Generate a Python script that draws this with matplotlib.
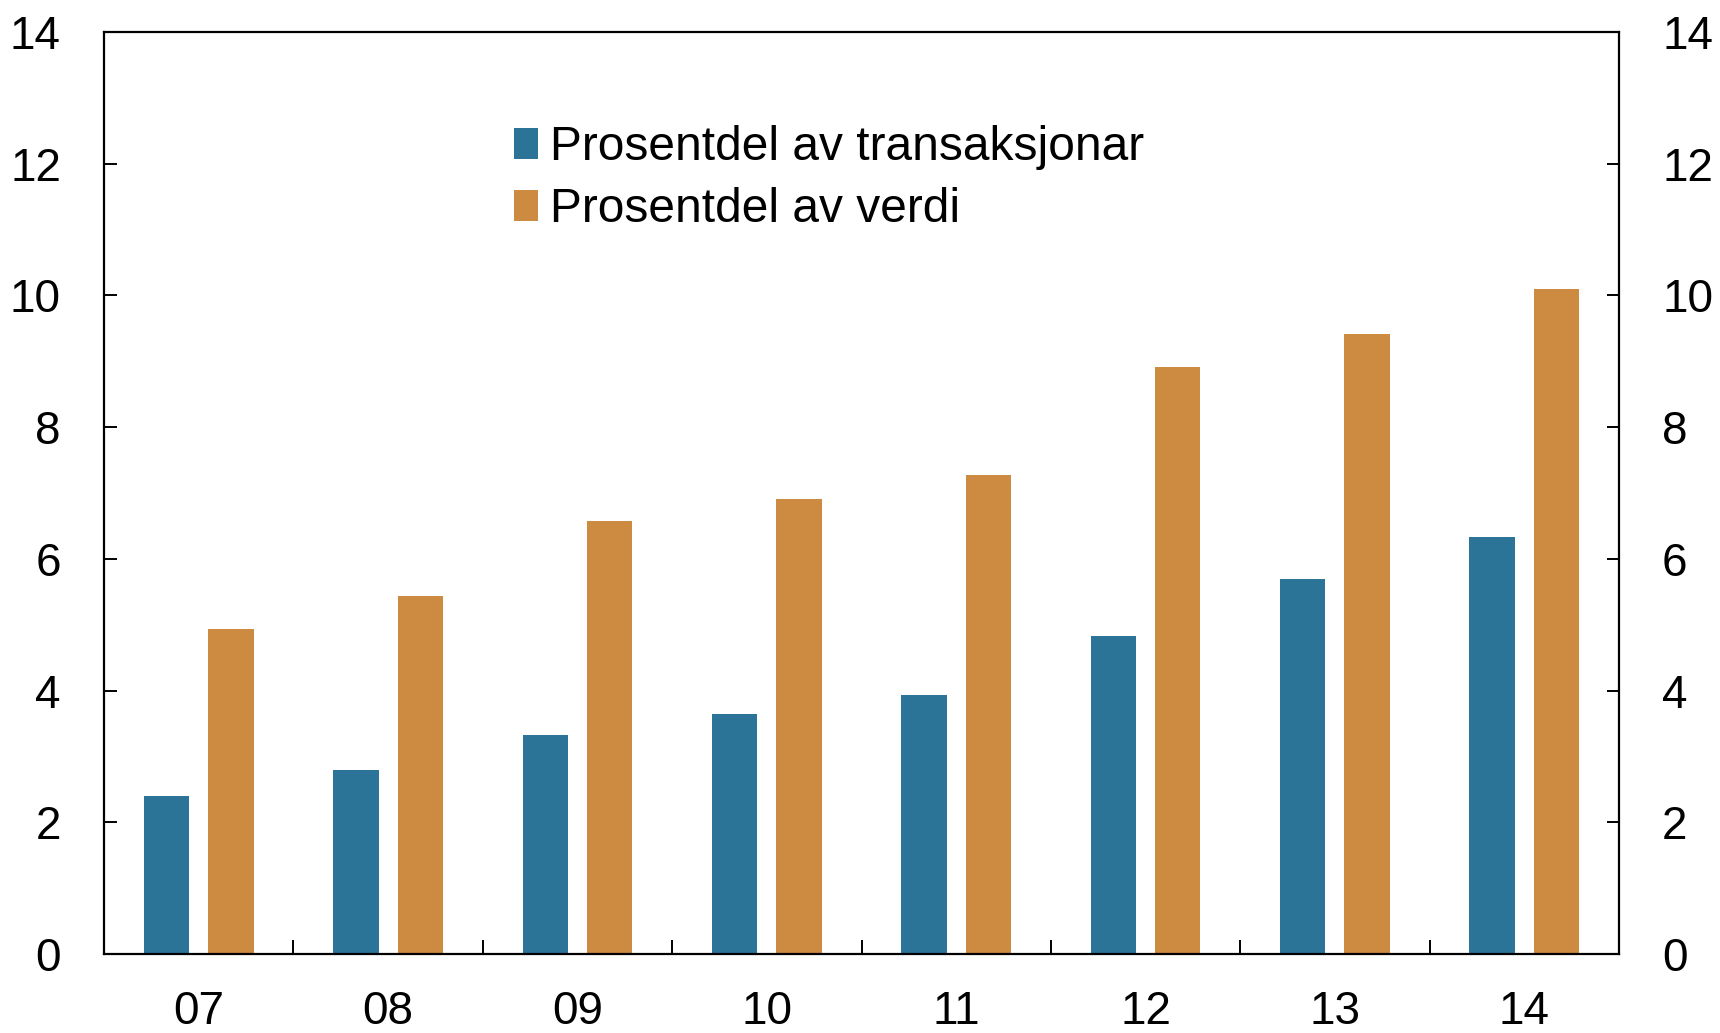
import numpy as np
import matplotlib
matplotlib.use('Agg')
import matplotlib.pyplot as plt
from matplotlib.ticker import MultipleLocator, FixedLocator

years = ['07', '08', '09', '10', '11', '12', '13', '14']
transaksjonar = [2.40, 2.79, 3.33, 3.64, 3.94, 4.83, 5.70, 6.33]
verdi = [4.93, 5.44, 6.58, 6.91, 7.27, 8.92, 9.41, 10.10]
labels = ['Prosentdel av transaksjonar', 'Prosentdel av verdi']

blue = '#2C7398'
orange = '#CD8B42'

plt.rcParams['font.family'] = ['Liberation Sans', 'DejaVu Sans']

fig = plt.figure(figsize=(17.2, 10.33), dpi=100)
ax = fig.add_axes([104 / 1720, 79 / 1033, 1515 / 1720, 922 / 1033])

x = np.arange(len(years))
w = 0.24
ax.bar(x - 0.17, transaksjonar, w, color=blue, label=labels[0])
ax.bar(x + 0.17, verdi, w, color=orange, label=labels[1])

ax.set_xlim(-0.5, len(years) - 0.5)
ax.set_ylim(0, 14)
ax.yaxis.set_major_locator(MultipleLocator(2))
ax.set_xticks(x)
ax.set_xticklabels(years)
ax.xaxis.set_minor_locator(FixedLocator(x[:-1] + 0.5))

for s in ax.spines.values():
    s.set_linewidth(1.6)

ax.tick_params(axis='x', which='major', length=0, pad=26, labelsize=33)
ax.tick_params(axis='x', which='minor', direction='in', length=10, width=1.4)
ax.tick_params(axis='y', which='major', direction='in', length=9, width=1.4,
               left=True, right=True, labelleft=True, labelright=True,
               pad=31, labelsize=33)

ax.legend(loc='upper left', bbox_to_anchor=(0.258, 0.92), frameon=False,
          fontsize=34.5, handlelength=0.5, handleheight=0.62, handletextpad=0.25,
          labelspacing=0.36, borderaxespad=0)

fig.savefig('out.png', dpi=100)
